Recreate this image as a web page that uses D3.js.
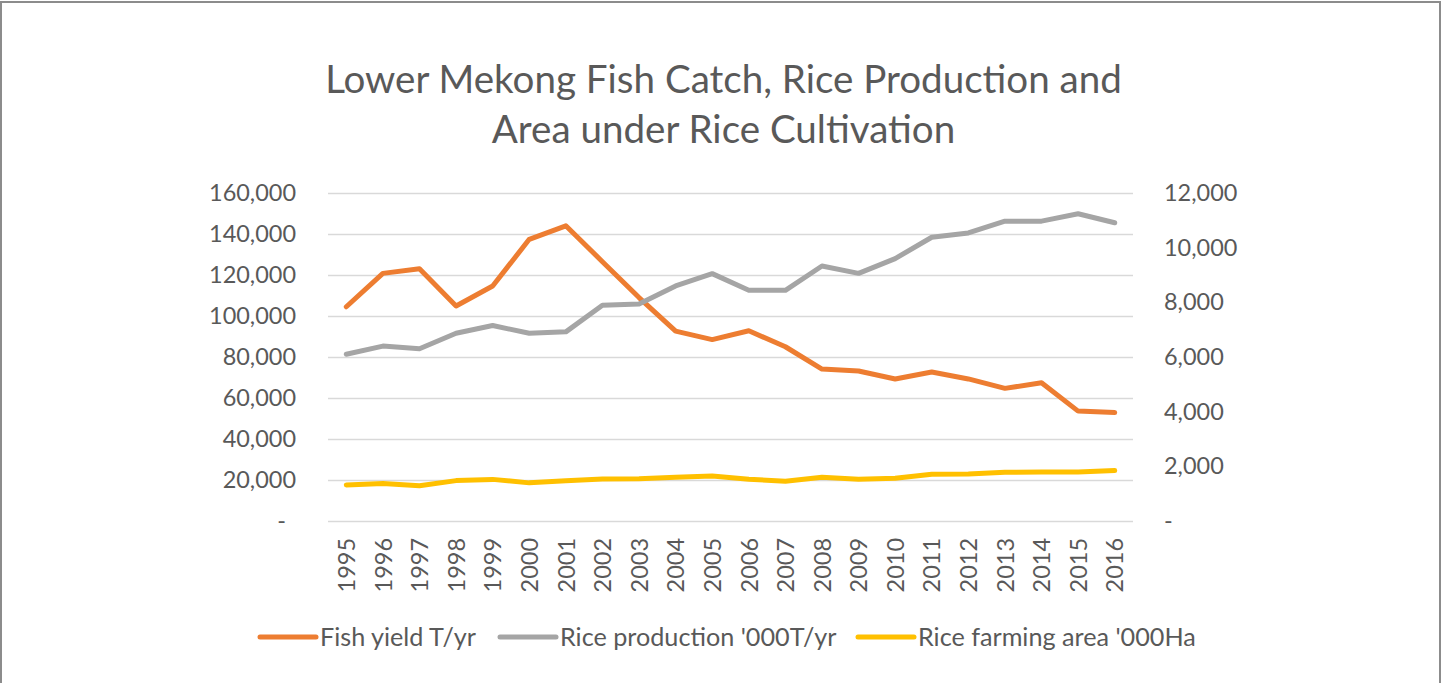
<!DOCTYPE html>
<html><head><meta charset="utf-8">
<script src="https://cdn.jsdelivr.net/npm/d3@7"></script>
<style>html,body{margin:0;padding:0;background:#fff;overflow:hidden}svg{display:block}</style>
</head><body>
<script>
const years = ["1995","1996","1997","1998","1999","2000","2001","2002","2003","2004","2005","2006","2007","2008","2009","2010","2011","2012","2013","2014","2015","2016"];
const fishYield = [104500,120800,123000,104900,114600,137400,144000,126500,109000,92600,88500,92800,85000,74100,73200,69300,72700,69300,64700,67400,53600,52900];
const riceProduction = [6100,6400,6300,6870,7150,6870,6920,7890,7940,8600,9050,8440,8440,9330,9060,9600,10380,10540,10970,10970,11240,10910];
const riceArea = [17600,18300,17200,19700,20300,18600,19600,20500,20600,21300,22000,20400,19400,21300,20400,20900,22800,22900,23800,23900,23900,24600];
const leftTicks = [0,20000,40000,60000,80000,100000,120000,140000,160000];
const rightTicks = [0,2000,4000,6000,8000,10000,12000];
const titleLines = ["Lower Mekong Fish Catch, Rice Production and","Area under Rice Cultivation"];
const seriesNames = ["Fish yield T/yr","Rice production '000T/yr","Rice farming area '000Ha"];
const seriesColors = ["#ED7D31","#A5A5A5","#FFC000"];

const W = 1442, H = 683;
const FONT = "Lato, 'Open Sans', sans-serif";
const TXT = "#595959";
const svg = d3.select("body").append("svg").attr("width", W).attr("height", H);
svg.append("rect").attr("x",1).attr("y",2).attr("width",1439).attr("height",720)
  .attr("fill","#fff").attr("stroke","#8c8c8c").attr("stroke-width",2);

function fitSize(str, target, base){
  const t = svg.append("text").attr("font-family",FONT).attr("font-size",base).text(str);
  const w = t.node().getComputedTextLength(); t.remove();
  return base*target/w;
}
const fmt = d3.format(",");
const tickSize = fitSize("160,000", 87, 24);
const legendSize = fitSize(seriesNames[0], 156, 24);
const titleSize = fitSize(titleLines[0], 797, 36);

// title
svg.selectAll("text.title").data(titleLines).join("text").attr("class","title")
  .attr("x",723.5).attr("y",(d,i)=>93+i*50).attr("text-anchor","middle")
  .attr("font-family",FONT).attr("font-size",titleSize).attr("fill",TXT).text(d=>d);

const plot = {l:328, r:1133, t:193, b:521};
const x = d3.scalePoint().domain(years).range([plot.l, plot.r]).padding(0.5);
const yL = d3.scaleLinear().domain([0,160000]).range([plot.b, plot.t]);
const yR = d3.scaleLinear().domain([0,12000]).range([plot.b, plot.t]);

// gridlines
const grid = d3.axisLeft(yL).tickValues(leftTicks).tickSize(-(plot.r-plot.l)).tickFormat("");
svg.append("g").attr("transform",`translate(${plot.l},0)`).call(grid)
  .call(g=>g.select(".domain").remove())
  .call(g=>g.selectAll("line").attr("stroke","#d9d9d9").attr("stroke-width",1.5));

// left axis labels
const la = d3.axisLeft(yL).tickValues(leftTicks).tickSize(0).tickPadding(0)
  .tickFormat(d=> d===0 ? "-" : fmt(d));
svg.append("g").attr("transform",`translate(296,0)`).call(la)
  .call(g=>g.select(".domain").remove())
  .call(g=>g.selectAll("text").attr("font-family",FONT).attr("font-size",tickSize).attr("fill",TXT)
    .attr("dx",d=>d===0?-10:0));

// right axis labels
const ra = d3.axisRight(yR).tickValues(rightTicks).tickSize(0).tickPadding(0)
  .tickFormat(d=> d===0 ? "-" : fmt(d));
svg.append("g").attr("transform",`translate(1164,0)`).call(ra)
  .call(g=>g.select(".domain").remove())
  .call(g=>g.selectAll("text").attr("font-family",FONT).attr("font-size",tickSize).attr("fill",TXT));

// x axis labels
const xa = d3.axisBottom(x).tickSize(0).tickPadding(0);
svg.append("g").attr("transform",`translate(0,${plot.b})`).call(xa)
  .call(g=>g.select(".domain").remove())
  .call(g=>g.selectAll("text").attr("font-family",FONT).attr("font-size",tickSize).attr("fill",TXT)
    .attr("transform","rotate(-90)").attr("text-anchor","end").attr("x",-17).attr("y",0).attr("dy","0.35em"));

// lines
const series = [
  {vals:fishYield, y:yL, c:seriesColors[0]},
  {vals:riceProduction, y:yR, c:seriesColors[1]},
  {vals:riceArea, y:yL, c:seriesColors[2]}
];
series.forEach(s=>{
  const line = d3.line().x((d,i)=>x(years[i])).y(d=>s.y(d));
  svg.append("path").datum(s.vals).attr("d",line).attr("fill","none")
    .attr("stroke",s.c).attr("stroke-width",5).attr("stroke-linejoin","round").attr("stroke-linecap","round");
});

// legend
const legX = [258, 498, 856];
const leg = svg.append("g");
seriesNames.forEach((n,i)=>{
  leg.append("line").attr("x1",legX[i]+2).attr("x2",legX[i]+58).attr("y1",637).attr("y2",637)
    .attr("stroke",seriesColors[i]).attr("stroke-width",5).attr("stroke-linecap","round");
  leg.append("text").attr("x",legX[i]+62).attr("y",637).attr("dy","0.35em")
    .attr("font-family",FONT).attr("font-size",legendSize).attr("fill",TXT).text(n);
});
</script>
</body></html>
